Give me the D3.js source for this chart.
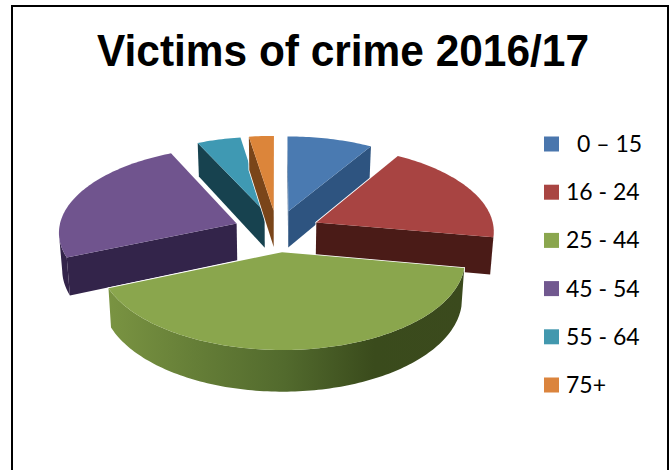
<!DOCTYPE html>
<html>
<head>
<meta charset="utf-8">
<script src="https://cdn.jsdelivr.net/npm/d3@7/dist/d3.min.js"></script>
<style>
  html, body { margin: 0; padding: 0; background: #fff; }
  svg { display: block; }
</style>
</head>
<body>
<script>
// Age bands and their share of victims, in percent
const categories = ["0 \u2013 15", "16 - 24", "25 - 44", "45 - 54", "55 - 64", "75+"];
const shares = [8.6, 19.2, 40.8, 24.5, 4.4, 2.5];
const topColors = ["#4a7ab1", "#a84442", "#8aa64d", "#70548e", "#3f99b3", "#dc853a"];
const sideColors = ["#2e5480", "#4a1b17", "#5a7433", "#33244a", "#17424f", "#7a4519"];
const legendColors = ["#4a76ad", "#a94542", "#8aa64e", "#71588f", "#4298ae", "#db843d"];
const legendOffsets = [11, 0, 0, 0, 0, 0];
// Back-to-front paint order for the exploded wedges
const paintOrder = [4, 5, 0, 3, 1, 2];
const titleText = "Victims of crime 2016/17";

const width = 670, height = 470;
const svg = d3.select("body").append("svg").attr("width", width).attr("height", height);

// Perspective projection of the tilted pie: x is right, z is away from the viewer
const view = { cx: 277, cy: 231, a: 178, b: 85, p: 0.09, depth: 37, taper: 0.015, explode: 0.245 };
function project(x, z, down) {
  const s = 1 / (1 + view.p * z);
  return [
    view.cx + view.a * x * s * (1 - down * view.taper),
    view.cy - view.b * z * s + down * view.depth * s
  ];
}

const slices = d3.pie().sort(null)(shares);
const polygon = d3.line().curve(d3.curveLinear);
const path = pts => polygon(pts) + "Z";

const defs = svg.append("defs");
const wallShade = defs.append("linearGradient")
  .attr("id", "wall-25-44")
  .attr("gradientUnits", "userSpaceOnUse")
  .attr("x1", 107).attr("x2", 463).attr("y1", 0).attr("y2", 0);
[[0, "#7a9442"], [0.25, "#657e37"], [0.5, "#526a2d"], [0.75, "#3a4b1c"], [1, "#3b4a1d"]]
  .forEach(([o, c]) => wallShade.append("stop").attr("offset", o).attr("stop-color", c));

// Frame around the chart area, open at the bottom edge
svg.append("path")
  .attr("d", d3.line()([[12, height], [12, 6], [668, 6], [668, height]]))
  .attr("fill", "none").attr("stroke", "#000").attr("stroke-width", 2);

svg.append("text")
  .attr("x", 343).attr("y", 66)
  .attr("text-anchor", "middle")
  .attr("font-family", "Liberation Sans, Arial, sans-serif")
  .attr("font-weight", 700)
  .attr("font-size", 44)
  .attr("textLength", 492)
  .attr("lengthAdjust", "spacingAndGlyphs")
  .attr("fill", "#000")
  .text(titleText);

const pieGroup = svg.append("g");

paintOrder.forEach(i => {
  const d = slices[i];
  const mid = (d.startAngle + d.endAngle) / 2;
  const ox = view.explode * Math.sin(mid), oz = view.explode * Math.cos(mid);
  const rim = t => [ox + Math.sin(t), oz + Math.cos(t)];
  const steps = Math.max(4, Math.ceil((d.endAngle - d.startAngle) / 0.02));
  const angles = d3.range(steps + 1).map(k => d.startAngle + (d.endAngle - d.startAngle) * k / steps);
  const cameraZ = -1 / view.p;
  const g = pieGroup.append("g").attr("class", "wedge");
  const shapes = [];

  const cut = (pa, pb) => [project(pa[0], pa[1], 0), project(pb[0], pb[1], 0),
                           project(pb[0], pb[1], 1), project(pa[0], pa[1], 1)];
  const seesFace = (nx, nz, pt) => nx * (0 - pt[0]) + nz * (cameraZ - pt[1]) > 0;

  // Radial cut at the start of the wedge
  const rs = rim(d.startAngle);
  if (seesFace(-Math.cos(d.startAngle), Math.sin(d.startAngle), rs)) {
    shapes.push({ d: path(cut([ox, oz], rs)), fill: sideColors[i] });
  }
  // Radial cut at the end of the wedge
  const re = rim(d.endAngle);
  if (seesFace(Math.cos(d.endAngle), -Math.sin(d.endAngle), re)) {
    shapes.push({ d: path(cut([ox, oz], re)), fill: sideColors[i] });
  }
  // Outer wall: only the samples that face the viewer
  const front = angles.filter(t => seesFace(Math.sin(t), Math.cos(t), rim(t)));
  if (front.length > 1) {
    const upper = front.map(t => project(...rim(t), 0));
    const lower = front.map(t => project(...rim(t), 1)).reverse();
    shapes.push({ d: path(upper.concat(lower)), fill: i === 2 ? "url(#wall-25-44)" : sideColors[i] });
  }
  // Top surface
  const top = [project(ox, oz, 0)].concat(angles.map(t => project(...rim(t), 0)));
  shapes.push({ d: path(top), fill: topColors[i] });

  // A white halo under the wedge keeps it apart from whatever lies behind it
  g.selectAll("path.halo").data(shapes).join("path")
    .attr("class", "halo").attr("d", s => s.d)
    .attr("fill", "#fff").attr("stroke", "#fff").attr("stroke-width", 1.6).attr("stroke-linejoin", "round");
  g.selectAll("path.face").data(shapes).join("path")
    .attr("class", "face").attr("d", s => s.d).attr("fill", s => s.fill);
});

// Legend
const legendY = d3.scalePoint().domain(categories).range([144, 385]);
const legend = svg.append("g").selectAll("g").data(categories).join("g")
  .attr("transform", c => `translate(0,${legendY(c)})`);
legend.append("rect")
  .attr("x", 544).attr("y", -7.5).attr("width", 15).attr("height", 15)
  .attr("fill", (c, i) => legendColors[i]);
legend.append("text")
  .attr("x", (c, i) => 566 + legendOffsets[i]).attr("y", 8)
  .attr("font-family", "Lato, Carlito, Calibri, sans-serif")
  .attr("font-size", 23)
  .attr("fill", "#000")
  .text(c => c);
</script>
</body>
</html>
